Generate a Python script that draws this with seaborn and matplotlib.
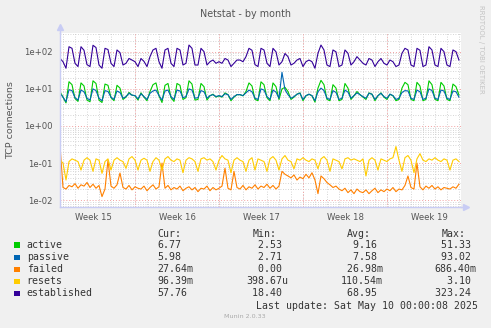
import matplotlib
matplotlib.use("Agg")
import numpy as np
import pandas as pd
import matplotlib.pyplot as plt
import seaborn as sns
from matplotlib.patches import Rectangle

# ---- data: 6-hourly samples (four per day), x in days from the left edge ----
established = [
    66, 54, 36, 137,   124, 49, 40, 137,   110, 45, 40, 150,   130, 44, 36, 124,
    115, 49, 40, 112,  95, 44, 49, 66,     60, 54, 40, 66,     55, 40, 74, 112,
    124, 54, 36, 112,  124, 49, 40, 124,   112, 44, 49, 152,   124, 44, 44, 124,
    101, 44, 54, 60,   49, 54, 49, 66,     60, 40, 49, 60,     60, 54, 74, 124,
    110, 45, 40, 124,  112, 49, 40, 124,   100, 44, 54, 90,    74, 44, 49, 60,
    66, 40, 54, 60,    54, 36, 91, 152,    112, 44, 40, 112,   100, 40, 44, 112,
    91, 44, 54, 74,    60, 49, 44, 66,     60, 40, 54, 66,     49, 44, 60, 54,
    40, 44, 91, 124,   112, 44, 40, 124,   110, 40, 44, 137,   112, 44, 40, 124,
    101, 44, 40, 112,  101, 60,
]
active = [
    8.4, 6.0, 4.2, 15.6,   13.0, 5.5, 4.6, 14.5,   12.0, 5.0, 4.5, 16.5,   14.0, 5.0, 4.3, 13.5,
    12.5, 5.8, 4.8, 12.5,  10.5, 5.2, 6.0, 8.0,    6.8, 6.5, 5.0, 7.8,     6.0, 4.8, 8.5, 13.0,
    14.5, 6.5, 4.3, 12.5,  14.0, 5.8, 4.6, 14.0,   12.5, 5.2, 5.8, 16.5,   13.5, 5.0, 5.2, 14.0,
    11.5, 5.0, 6.5, 7.2,   6.0, 6.5, 6.0, 7.8,     7.0, 4.8, 6.0, 7.0,     7.0, 6.5, 8.5, 14.5,
    12.0, 5.2, 4.8, 15.5,  13.0, 5.8, 4.8, 14.5,   11.5, 5.2, 10.0, 11.0,  8.5, 5.2, 6.0, 7.2,
    7.8, 4.8, 6.5, 7.2,    6.5, 4.4, 10.5, 17.0,   13.0, 5.2, 4.8, 13.0,   10.5, 4.8, 5.2, 14.0,
    10.5, 5.2, 6.5, 8.5,   7.0, 6.0, 5.2, 7.8,     7.2, 4.8, 6.5, 7.8,     6.0, 5.2, 7.2, 6.5,
    4.8, 5.2, 10.5, 15.0,  13.0, 5.2, 4.8, 15.0,   12.0, 4.8, 5.2, 16.5,   13.0, 5.2, 4.8, 15.0,
    12.0, 5.2, 4.8, 13.5,  11.5, 6.8,
]
passive = [
    7.6, 6.0, 4.5, 9.5,    9.0, 5.8, 5.0, 9.3,     8.4, 5.6, 5.0, 10.0,    9.0, 5.6, 4.8, 9.0,
    8.5, 6.0, 5.2, 8.8,    8.0, 5.6, 6.2, 7.6,     6.8, 6.6, 5.4, 7.4,     6.2, 5.2, 7.6, 8.8,
    9.3, 6.6, 5.0, 8.8,    9.3, 6.2, 5.2, 9.3,     8.8, 5.8, 6.2, 10.0,    9.3, 5.6, 5.8, 9.0,
    8.4, 5.6, 6.6, 7.0,    6.2, 6.6, 6.2, 7.4,     7.0, 5.2, 6.2, 7.0,     7.0, 6.6, 7.8, 9.3,
    8.4, 5.6, 5.2, 10.0,   9.3, 6.2, 5.2, 9.3,     8.2, 5.6, 28.0, 9.5,    7.0, 5.6, 6.2, 7.2,
    7.6, 5.2, 6.6, 7.2,    6.6, 4.8, 8.4, 10.5,    9.0, 5.6, 5.2, 9.0,     8.0, 5.2, 5.6, 9.3,
    8.2, 5.6, 6.6, 7.8,    7.0, 6.2, 5.6, 7.6,     7.2, 5.2, 6.6, 7.6,     6.2, 5.6, 7.2, 6.6,
    5.2, 5.6, 8.0, 9.0,    8.8, 5.6, 5.2, 9.3,     8.4, 5.2, 5.6, 10.0,    9.0, 5.6, 5.2, 9.3,
    8.8, 5.6, 5.2, 8.8,    8.4, 6.0,
]
failed = [
    0.30, 0.022, 0.020, 0.025, 0.023, 0.028, 0.021, 0.026, 0.024, 0.030,
    0.022, 0.027, 0.021, 0.025, 0.0125, 0.020, 0.12, 0.024, 0.021, 0.026,
    0.054, 0.022, 0.020, 0.025, 0.019, 0.023, 0.021, 0.020, 0.024, 0.018,
    0.022, 0.026, 0.020, 0.023, 0.10, 0.021, 0.025, 0.019, 0.022, 0.020,
    0.024, 0.018, 0.021, 0.023, 0.019, 0.022, 0.017, 0.021, 0.020, 0.024,
    0.018, 0.022, 0.019, 0.021, 0.024, 0.073, 0.021, 0.019, 0.060, 0.022,
    0.020, 0.025, 0.019, 0.023, 0.021, 0.026, 0.020, 0.024, 0.022, 0.027,
    0.021, 0.025, 0.020, 0.024, 0.060, 0.050, 0.045, 0.040, 0.048, 0.035,
    0.042, 0.038, 0.050, 0.040, 0.055, 0.035, 0.015, 0.045, 0.038, 0.030,
    0.026, 0.022, 0.024, 0.020, 0.018, 0.021, 0.016, 0.019, 0.015, 0.020,
    0.017, 0.016, 0.019, 0.015, 0.018, 0.021, 0.016, 0.019, 0.017, 0.020,
    0.018, 0.022, 0.017, 0.020, 0.019, 0.025, 0.045, 0.022, 0.020, 0.10,
    0.023, 0.019, 0.024, 0.021, 0.025, 0.020, 0.023, 0.019, 0.022, 0.021,
    0.020, 0.023, 0.021, 0.027,
]
resets = [
    0.12, 0.10, 0.035, 0.11, 0.13, 0.12, 0.11, 0.065, 0.12, 0.14,
    0.12, 0.06, 0.13, 0.12, 0.053, 0.11, 0.13, 0.065, 0.12, 0.14,
    0.12, 0.11, 0.072, 0.13, 0.15, 0.12, 0.065, 0.12, 0.135, 0.12,
    0.06, 0.11, 0.14, 0.12, 0.065, 0.13, 0.15, 0.12, 0.11, 0.13,
    0.12, 0.055, 0.12, 0.14, 0.13, 0.11, 0.06, 0.13, 0.14, 0.12,
    0.13, 0.11, 0.065, 0.12, 0.16, 0.13, 0.12, 0.055, 0.12, 0.14,
    0.12, 0.11, 0.06, 0.12, 0.14, 0.065, 0.13, 0.12, 0.11, 0.06,
    0.13, 0.15, 0.12, 0.065, 0.13, 0.16, 0.12, 0.11, 0.07, 0.13,
    0.12, 0.14, 0.12, 0.11, 0.13, 0.12, 0.07, 0.13, 0.15, 0.12,
    0.06, 0.13, 0.12, 0.11, 0.07, 0.13, 0.14, 0.12, 0.13, 0.12,
    0.11, 0.13, 0.045, 0.12, 0.14, 0.12, 0.065, 0.13, 0.12, 0.11,
    0.13, 0.14, 0.28, 0.12, 0.06, 0.14, 0.16, 0.12, 0.055, 0.13,
    0.18, 0.12, 0.11, 0.13, 0.12, 0.14, 0.12, 0.11, 0.13, 0.12,
    0.065, 0.12, 0.13, 0.11,
]

series_names = ["active", "passive", "failed", "resets", "established"]
series_colors = ["#00CC00", "#0066B3", "#FF8000", "#FFCC00", "#330099"]
cur_vals = ["6.77", "5.98", "27.64m", "96.39m", "57.76"]
min_vals = ["2.53", "2.71", "0.00", "398.67u", "18.40"]
avg_vals = ["9.16", "7.58", "26.98m", "110.54m", "68.95"]
max_vals = ["51.33", "93.02", "686.40m", "3.10", "323.24"]

week_labels = ["Week 15", "Week 16", "Week 17", "Week 18", "Week 19"]
week_bounds = [-0.73, 6.27, 13.27, 20.27, 27.27, 34.27]   # days
span_days = 33.42
step_days = 0.25

n = len(established)
day = np.arange(n) * step_days
frames = []
for name, vals in zip(series_names, [active, passive, failed, resets, established]):
    frames.append(pd.DataFrame({"day": day, "value": vals, "series": name}))
df = pd.concat(frames, ignore_index=True)

# ---- figure ----
W, H = 491, 328
BG = "#F0F0F0"
TXT = "#555555"
fig = plt.figure(figsize=(W / 100, H / 100), dpi=100, facecolor=BG)

def fx(px):
    return px / W

def fy(py):
    return 1 - py / H

ax_l, ax_r, ax_t, ax_b = 60, 461, 33, 207
ax = fig.add_axes([fx(ax_l), fy(ax_b), (ax_r - ax_l) / W, (ax_b - ax_t) / H])
ax.set_facecolor("white")

sns.lineplot(data=df, x="day", y="value", hue="series", hue_order=series_names,
             palette=series_colors, linewidth=0.8, legend=False, ax=ax,
             estimator=None, sort=False)

ax.set_yscale("log")
ax.set_ylim(0.00656, 321)
ax.set_xlim(0, span_days)

# grid: daily / sub-decade minor lines, weekly / decade major lines
minor_kw = dict(color="#C8C8C8", linewidth=0.6, linestyle=(0, (1, 2)), zorder=0)
major_kw = dict(color="#F2A0A0", linewidth=0.7, linestyle=(0, (1, 2)), zorder=0.5)
for d in np.arange(week_bounds[0] + 1, span_days, 1.0):
    if d > 0:
        ax.axvline(d, **minor_kw)
for dec in [1e-3, 1e-2, 1e-1, 1e0, 1e1, 1e2]:
    for m in range(2, 10):
        v = dec * m
        if 0.00656 < v < 321:
            ax.axhline(v, **minor_kw)
for b in week_bounds[1:-1]:
    ax.axvline(b, **major_kw)
for dec in [1e-2, 1e-1, 1e0, 1e1, 1e2]:
    ax.axhline(dec, **major_kw)

ax.set_yticks([1e-2, 1e-1, 1e0, 1e1, 1e2])
ax.set_yticklabels(["1e-02", "1e-01", "1e+00", "1e+01", "1e+02"])
ax.yaxis.set_minor_locator(matplotlib.ticker.NullLocator())
week_mid = [(a + b) / 2 for a, b in zip(week_bounds[:-1], week_bounds[1:])]
ax.set_xticks(week_mid)
ax.set_xticklabels(week_labels)
ax.tick_params(axis="both", length=0, labelsize=6.1, labelcolor=TXT)
ax.tick_params(axis="y", pad=5)
ax.tick_params(axis="x", pad=4)
ax.set_xlabel("")
ax.set_ylabel("")
fig.text(fx(11), fy(120), "TCP connections", rotation=90, ha="center", va="center",
         fontsize=6.8, color=TXT)

axis_col = "#C8CCF4"
for s in ["top", "right"]:
    ax.spines[s].set_visible(False)
for s in ["left", "bottom"]:
    ax.spines[s].set_color(axis_col)
    ax.spines[s].set_linewidth(1.0)
# axis arrows
ax.plot([0, 0], [1.0, 1.035], transform=ax.transAxes, color=axis_col, lw=1.0, clip_on=False)
ax.plot([0], [1.035], transform=ax.transAxes, marker="^", ms=4, color=axis_col, clip_on=False)
ax.plot([1.0, 1.012], [0, 0], transform=ax.transAxes, color=axis_col, lw=1.0, clip_on=False)
ax.plot([1.012], [0], transform=ax.transAxes, marker=">", ms=4, color=axis_col, clip_on=False)

fig.text(fx(245), fy(14), "Netstat - by month", ha="center", va="center",
         fontsize=6.9, color=TXT)
fig.text(fx(480.5), fy(5), "RRDTOOL / TOBI OETIKER", rotation=270, ha="center",
         va="top", fontsize=5.0, color="#C4C4C4")

# ---- legend block ----
mono = dict(family="DejaVu Sans Mono", fontsize=7.15, color="#333333", va="center")
rows_y = [245.0, 257.2, 269.3, 281.5, 293.5]
fig.text(fx(157.3), fy(234), "Cur:", ha="left", **mono)
fig.text(fx(252.3), fy(234), "Min:", ha="left", **mono)
fig.text(fx(346.7), fy(234), "Avg:", ha="left", **mono)
fig.text(fx(441.7), fy(234), "Max:", ha="left", **mono)

def padded(v):
    # six-wide number plus one-character SI suffix column
    if v[-1].isalpha():
        return v.rjust(7)
    return (v + " ").rjust(7)

for i, name in enumerate(series_names):
    y = rows_y[i]
    fig.patches.append(Rectangle((fx(14), fy(y + 2.8)), 5.5 / W, 5.5 / H,
                                 transform=fig.transFigure, facecolor=series_colors[i],
                                 edgecolor="none"))
    fig.text(fx(26.7), fy(y), name, ha="left", **mono)
    fig.text(fx(157.3), fy(y), cur_vals[i], ha="left", **mono)
    fig.text(fx(246.3), fy(y), padded(min_vals[i]), ha="left", **mono)
    fig.text(fx(340.7), fy(y), padded(avg_vals[i]), ha="left", **mono)
    fig.text(fx(434.7), fy(y), padded(max_vals[i]), ha="left", **mono)

fig.text(fx(256), fy(305.7), "Last update: Sat May 10 00:00:08 2025", ha="left", **mono)
fig.text(fx(245), fy(316.7), "Munin 2.0.33", ha="center", va="center",
         fontsize=4.6, color="#AAAAAA")

fig.savefig("out.png", dpi=100, facecolor=BG)
